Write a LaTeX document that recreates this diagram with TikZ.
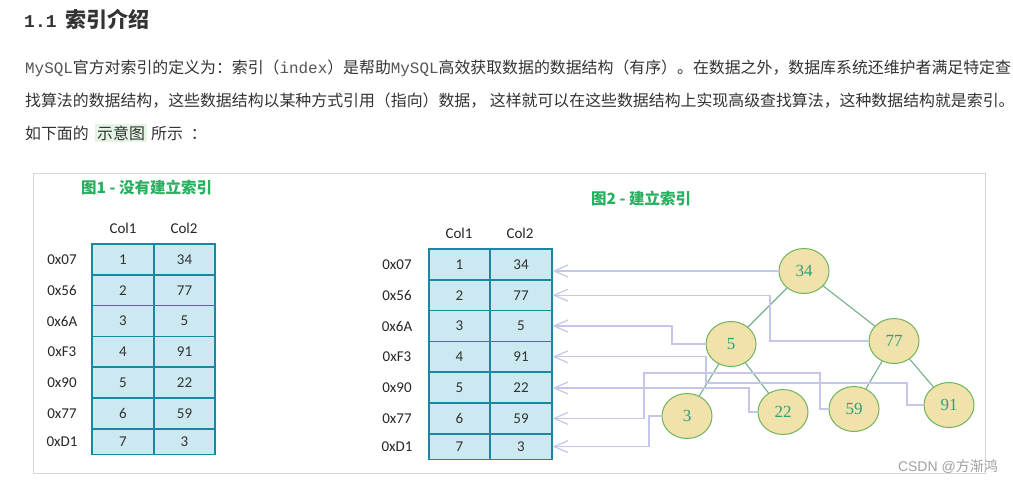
\documentclass[tikz,border=0pt]{standalone}
\usepackage{fontspec}
\setmainfont{Noto Sans CJK SC}
\newfontfamily\monof{Liberation Mono}
\newfontfamily\carl{Carlito}
\newfontfamily\sernum{Liberation Serif}
\newfontfamily\lsans{Liberation Sans}
\usetikzlibrary{shapes.geometric,arrows.meta}
\definecolor{hd}{RGB}{51,51,51}
\definecolor{bodyc}{RGB}{51,51,51}
\definecolor{monoc}{RGB}{85,85,85}
\definecolor{titlec}{RGB}{40,175,95}
\definecolor{tfill}{RGB}{204,232,240}
\definecolor{tborder}{RGB}{25,135,160}
\definecolor{nfill}{RGB}{240,226,170}
\definecolor{nborder}{RGB}{110,180,90}
\definecolor{ntext}{RGB}{45,160,120}
\definecolor{ecol}{RGB}{120,175,140}
\definecolor{conncol}{RGB}{198,198,232}
\definecolor{framec}{RGB}{215,215,215}
\definecolor{hlc}{RGB}{228,245,228}
\definecolor{wmc}{RGB}{160,160,160}
\begin{document}
\begin{tikzpicture}[x=1pt,y=-1pt,
  bodytext/.style={anchor=base west, inner sep=0, text=bodyc, font=\fontsize{15.9}{15.9}\selectfont},
  figtitle/.style={inner sep=0, text=titlec, font=\fontsize{15.5}{15.5}\selectfont\bfseries},
  cell/.style={draw=tborder, fill=tfill, line width=1.6pt, minimum width=61.5, minimum height=30.8, inner sep=0, text=black!80, font=\carl\fontsize{15}{15}\selectfont},
  lastcell/.style={cell, minimum height=25.4},
  addr/.style={inner sep=0, text=black!85, font=\carl\fontsize{15}{15}\selectfont},
  colhdr/.style={inner sep=0, text=black!85, font=\carl\fontsize{15}{15}\selectfont},
  tnode/.style={ellipse, draw=nborder, fill=nfill, line width=1pt, minimum width=50, minimum height=45, inner sep=0, text=ntext, font=\sernum\fontsize{17}{17}\selectfont},
  tedge/.style={draw=ecol, line width=1.1pt},
  conn/.style={draw=conncol, line width=1.2pt, -{Straight Barb[length=14pt,width=12pt]}}
]
\useasboundingbox (0,0) rectangle (1013,483);
\fill[white] (0,0) rectangle (1013,483);

% heading and paragraph
\node[anchor=base west, inner sep=0, text=hd, font=\fontsize{21}{21}\selectfont\bfseries] (head) at (24,27)
  {{\monof\fontsize{18}{18}\selectfont 1.1}\hspace{9pt}索引介绍};
\node[bodytext] (p1) at (25,73)
  {{\monof\color{monoc}MySQL}官方对索引的定义为：索引（{\monof\color{monoc}index}）是帮助{\monof\color{monoc}MySQL}高效获取数据的数据结构（有序）。在数据之外，数据库系统还维护者满足特定查};
\node[bodytext] (p2) at (25,106)
  {找算法的数据结构，这些数据结构以某种方式引用（指向）数据， 这样就可以在这些数据结构上实现高级查找算法，这种数据结构就是索引。};
\node[bodytext] (p3a) at (25,139) {如下面的};
\node[bodytext, fill=hlc, inner sep=2pt] (p3b) at (95,139) {示意图};
\node[bodytext] (p3c) at (151,139) {所示\hspace{8pt}：};

% frame
\draw[framec, line width=1pt] (33,173) rectangle (985,473);

% figure titles
\node[figtitle, anchor=west] (fig1) at (81,188) {图1 - 没有建立索引};
\node[figtitle, anchor=west] (fig2) at (591,198) {图2 - 建立索引};

% table 1
\node[colhdr] (h11) at (123,228) {Col1};
\node[colhdr] (h12) at (184,228) {Col2};
\foreach \r/\ad/\ca/\cb in {1/0x07/1/34, 2/0x56/2/77, 3/0x6A/3/5, 4/0xF3/4/91, 5/0x90/5/22, 6/0x77/6/59} {
  \pgfmathsetmacro\yc{244+30.8*(\r-0.5)}
  \node[cell] (a\r c1) at (123,\yc) {\ca};
  \node[cell] (a\r c2) at (184.5,\yc) {\cb};
  \node[addr] (al\r) at (62,\yc) {\ad};
}
\node[lastcell] (a7c1) at (123,441.6) {7};
\node[lastcell] (a7c2) at (184.5,441.6) {3};
\node[addr] (al7) at (62,441.6) {0xD1};

% table 2
\node[colhdr] (h21) at (459,233) {Col1};
\node[colhdr] (h22) at (520,233) {Col2};
\foreach \r/\ad/\ca/\cb in {1/0x07/1/34, 2/0x56/2/77, 3/0x6A/3/5, 4/0xF3/4/91, 5/0x90/5/22, 6/0x77/6/59} {
  \pgfmathsetmacro\yc{249+30.8*(\r-0.5)}
  \node[cell] (b\r c1) at (459.5,\yc) {\ca};
  \node[cell] (b\r c2) at (521,\yc) {\cb};
  \node[addr] (bl\r) at (397,\yc) {\ad};
}
\node[lastcell] (b7c1) at (459.5,446.6) {7};
\node[lastcell] (b7c2) at (521,446.6) {3};
\node[addr] (bl7) at (397,446.6) {0xD1};

% tree
\node[tnode] (n34) at (804,271) {34};
\node[tnode] (n5)  at (731,344) {5};
\node[tnode] (n77) at (894,341) {77};
\node[tnode] (n3)  at (687,416) {3};
\node[tnode] (n22) at (783,412) {22};
\node[tnode] (n59) at (854,409) {59};
\node[tnode] (n91) at (949,405) {91};
\draw[tedge] (n34) -- (n5);
\draw[tedge] (n34) -- (n77);
\draw[tedge] (n5) -- (n3);
\draw[tedge] (n5) -- (n22);
\draw[tedge] (n77) -- (n59);
\draw[tedge] (n77) -- (n91);

% bend points
\coordinate (k2) at (770,295.2);
\coordinate (k3) at (672,326);
\coordinate (k4a) at (907,383);
\coordinate (k4b) at (706,356.8);
\coordinate (k5) at (749,388);
\coordinate (k6a) at (820,373);
\coordinate (k6b) at (644,418.4);
\coordinate (k7) at (649,446.6);

% connectors
\draw[conn] (n34.west) -- (n34.west -| b1c2.east);
\draw[conn] (n77.west) -| (k2) -- (k2 -| b2c2.east);
\draw[conn] (n5.west) -| (k3) -- (k3 -| b3c2.east);
\draw[conn] (n91.west) -| (k4a) -| (k4b) -- (k4b -| b4c2.east);
\draw[conn] (n22.west) -| (k5) -- (k5 -| b5c2.east);
\draw[conn] (n59.west) -| (k6a) -| (k6b) -- (k6b -| b6c2.east);
\draw[conn] (n3.west) -| (k7) -- (k7 -| b7c2.east);

% watermark
\node[anchor=east, inner sep=0, text=wmc, font=\fontsize{14}{14}\selectfont] (wm) at (998,467) {{\lsans CSDN @}方渐鸿};
\end{tikzpicture}
\end{document}
